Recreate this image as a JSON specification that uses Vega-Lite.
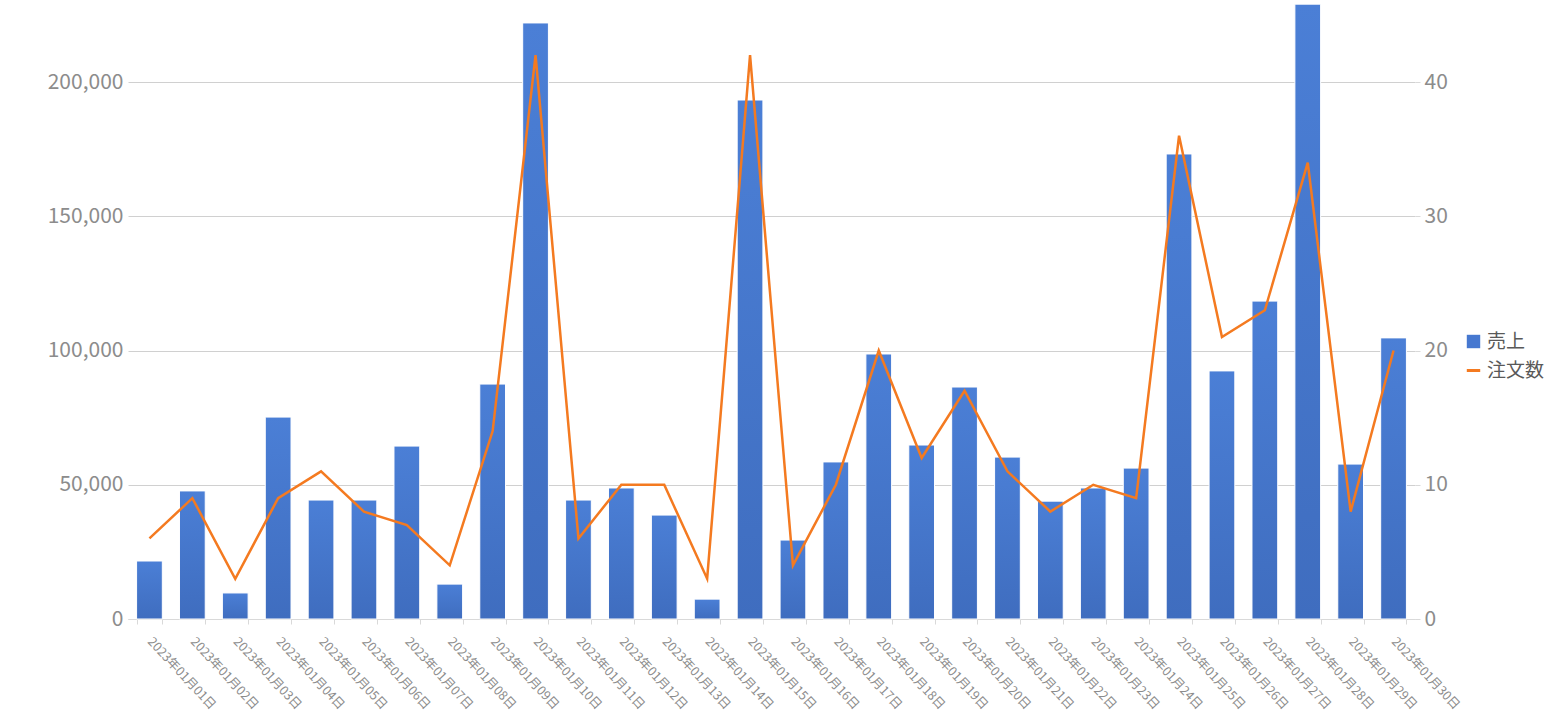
{
  "$schema": "https://vega.github.io/schema/vega-lite/v6.json",
  "autosize": {"type": "none"},
  "padding": {"left": 128, "top": 2, "right": 149, "bottom": 98},
  "width": 1287,
  "height": 617,
  "background": "white",
  "config": {
    "view": {"stroke": null},
    "font": "Noto Sans CJK JP",
    "axis": {"labelFont": "Noto Sans CJK JP", "titleFont": "Noto Sans CJK JP"},
    "legend": {"labelFont": "Noto Sans CJK JP"}
  },
  "data": {
    "values": [
      {"date": "2023年01月01日", "sales": 21600, "orders": 6},
      {"date": "2023年01月02日", "sales": 47700, "orders": 9},
      {"date": "2023年01月03日", "sales": 9700, "orders": 3},
      {"date": "2023年01月04日", "sales": 75200, "orders": 9},
      {"date": "2023年01月05日", "sales": 44300, "orders": 11},
      {"date": "2023年01月06日", "sales": 44300, "orders": 8},
      {"date": "2023年01月07日", "sales": 64400, "orders": 7},
      {"date": "2023年01月08日", "sales": 13000, "orders": 4},
      {"date": "2023年01月09日", "sales": 87500, "orders": 14},
      {"date": "2023年01月10日", "sales": 222000, "orders": 42},
      {"date": "2023年01月11日", "sales": 44300, "orders": 6},
      {"date": "2023年01月12日", "sales": 48800, "orders": 10},
      {"date": "2023年01月13日", "sales": 38700, "orders": 10},
      {"date": "2023年01月14日", "sales": 7400, "orders": 3},
      {"date": "2023年01月15日", "sales": 193300, "orders": 42},
      {"date": "2023年01月16日", "sales": 29400, "orders": 4},
      {"date": "2023年01月17日", "sales": 58500, "orders": 10},
      {"date": "2023年01月18日", "sales": 98700, "orders": 20},
      {"date": "2023年01月19日", "sales": 64800, "orders": 12},
      {"date": "2023年01月20日", "sales": 86400, "orders": 17},
      {"date": "2023年01月21日", "sales": 60300, "orders": 11},
      {"date": "2023年01月22日", "sales": 43900, "orders": 8},
      {"date": "2023年01月23日", "sales": 48800, "orders": 10},
      {"date": "2023年01月24日", "sales": 56200, "orders": 9},
      {"date": "2023年01月25日", "sales": 173200, "orders": 36},
      {"date": "2023年01月26日", "sales": 92400, "orders": 21},
      {"date": "2023年01月27日", "sales": 118400, "orders": 23},
      {"date": "2023年01月28日", "sales": 229000, "orders": 34},
      {"date": "2023年01月29日", "sales": 57700, "orders": 8},
      {"date": "2023年01月30日", "sales": 104700, "orders": 20}
    ]
  },
  "encoding": {
    "x": {
      "field": "date",
      "type": "nominal",
      "sort": null,
      "scale": {"paddingInner": 0.4, "paddingOuter": 0.2},
      "axis": {
        "title": null,
        "labelAngle": 47,
        "labelAlign": "left",
        "labelBaseline": "middle",
        "labelFontSize": 12.5,
        "labelColor": "#8c8c8c",
        "labelPadding": 15,
        "tickBand": "extent",
        "tickSize": 5,
        "tickColor": "#d9d9d9",
        "domainColor": "#d9d9d9",
        "grid": false
      }
    }
  },
  "layer": [
    {
      "mark": {
        "type": "bar",
        "stroke": "white",
        "strokeWidth": 1,
        "fill": {
          "gradient": "linear",
          "x1": 0, "y1": 0, "x2": 0, "y2": 1,
          "stops": [
            {"offset": 0, "color": "#4b7fd6"},
            {"offset": 1, "color": "#3f6dbf"}
          ]
        }
      },
      "encoding": {
        "y": {
          "field": "sales",
          "type": "quantitative",
          "scale": {"domain": [0, 229800], "nice": false, "zero": true},
          "axis": {
            "title": null,
            "orient": "left",
            "values": [0, 50000, 100000, 150000, 200000],
            "format": ",d",
            "labelFontSize": 21,
            "labelColor": "#8c8c8c",
            "labelPadding": 5,
            "tickSize": 0,
            "domain": false,
            "grid": true,
            "gridColor": "#d0d0d0",
            "gridWidth": 1
          }
        }
      }
    },
    {
      "mark": {"type": "line", "strokeWidth": 2.5},
      "encoding": {
        "y": {
          "field": "orders",
          "type": "quantitative",
          "scale": {"domain": [0, 45.96], "nice": false, "zero": true},
          "axis": {
            "title": null,
            "orient": "right",
            "values": [0, 10, 20, 30, 40],
            "labelFontSize": 21,
            "labelColor": "#8c8c8c",
            "labelPadding": 4,
            "tickSize": 5,
            "tickColor": "#d9d9d9",
            "domain": false,
            "grid": false
          }
        },
        "stroke": {
          "datum": "注文数",
          "type": "nominal",
          "scale": {"domain": ["売上", "注文数"], "range": ["#4678d0", "#f47a20"]},
          "legend": {
            "title": null,
            "orient": "none",
            "legendX": 1336,
            "legendY": 330,
            "labelFontSize": 19,
            "labelColor": "#595959",
            "symbolSize": 180,
            "rowPadding": 9,
            "labelOffset": 4,
            "encode": {
              "symbols": {
                "update": {
                  "shape": {"signal": "datum.value == '売上' ? 'square' : 'stroke'"},
                  "fill": {"signal": "datum.value == '売上' ? '#4678d0' : 'transparent'"},
                  "stroke": {"signal": "datum.value == '売上' ? 'transparent' : '#f47a20'"},
                  "strokeWidth": {"signal": "datum.value == '売上' ? 0 : 3"},
                  "opacity": {"value": 1}
                }
              }
            }
          }
        }
      }
    }
  ],
  "resolve": {"scale": {"y": "independent"}}
}
